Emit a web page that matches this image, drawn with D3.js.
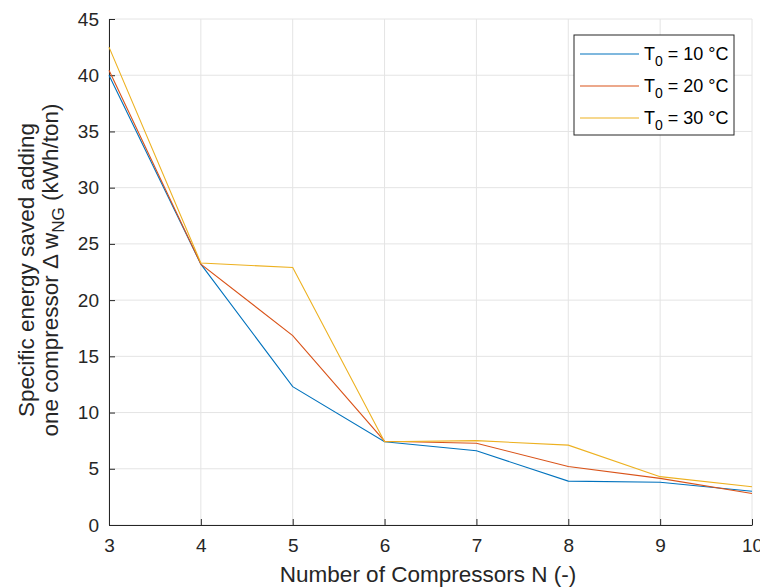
<!DOCTYPE html>
<html>
<head>
<meta charset="utf-8">
<script src="https://cdn.jsdelivr.net/npm/d3@7"></script>
<style>
  body { margin: 0; background: #fff; }
  svg { font-family: "Liberation Sans", Arial, sans-serif; }
</style>
</head>
<body>
<div id="chart"></div>
<script>
var compressors = [3, 4, 5, 6, 7, 8, 9, 10];
var t10 = [40.0, 23.2, 12.3, 7.4, 6.6, 3.9, 3.8, 3.0];
var t20 = [40.45, 23.2, 16.85, 7.45, 7.27, 5.2, 4.15, 2.8];
var t30 = [42.5, 23.3, 22.9, 7.4, 7.5, 7.1, 4.3, 3.4];
var seriesNames = ["10", "20", "30"];
var colors = ["#0072BD", "#D95319", "#EDB120"];
var yTicks = [0, 5, 10, 15, 20, 25, 30, 35, 40, 45];

var margin = {top: 19, right: 8, bottom: 63, left: 109},
  width = 760 - margin.left - margin.right,
  height = 588 - margin.top - margin.bottom;

var svg = d3.select("#chart").append("svg")
  .attr("width", 760)
  .attr("height", 588);

var g = svg.append("g")
  .attr("transform", "translate(" + margin.left + "," + margin.top + ")");

var x = d3.scaleLinear().domain([3, 10]).range([0, width]);
var y = d3.scaleLinear().domain([0, 45]).range([height, 0]);

// grid
g.append("g").selectAll("line").data(compressors).enter().append("line")
  .attr("x1", function (d) { return x(d); })
  .attr("x2", function (d) { return x(d); })
  .attr("y1", 0).attr("y2", height)
  .attr("stroke", "#e4e4e4").attr("stroke-width", 1);
g.append("g").selectAll("line").data(yTicks).enter().append("line")
  .attr("y1", function (d) { return y(d); })
  .attr("y2", function (d) { return y(d); })
  .attr("x1", 0).attr("x2", width)
  .attr("stroke", "#e4e4e4").attr("stroke-width", 1);

// axes
var xAxis = g.append("g")
  .attr("transform", "translate(0," + height + ")")
  .call(d3.axisBottom(x).tickValues(compressors).tickFormat(d3.format("d"))
    .tickSizeInner(-6).tickSizeOuter(0).tickPadding(14));
var yAxis = g.append("g")
  .call(d3.axisLeft(y).tickValues(yTicks).tickSizeInner(-6).tickSizeOuter(0).tickPadding(10));

[xAxis, yAxis].forEach(function (a) {
  a.select(".domain").attr("stroke", "#262626");
  a.selectAll(".tick line").attr("stroke", "#262626");
  a.selectAll(".tick text").attr("fill", "#262626").style("font-size", "19px")
    .style("font-family", "'Liberation Sans', Arial, sans-serif");
});

// lines
var allSeries = [t10, t20, t30];
var line = d3.line()
  .x(function (d, i) { return x(compressors[i]); })
  .y(function (d) { return y(d); });

allSeries.forEach(function (s, i) {
  g.append("path")
    .datum(s)
    .attr("fill", "none")
    .attr("stroke", colors[i])
    .attr("stroke-width", 1.1)
    .attr("d", line);
});

// axis labels
svg.append("text")
  .attr("x", 428)
  .attr("y", 582)
  .attr("text-anchor", "middle")
  .attr("fill", "#262626")
  .style("font-size", "22.5px")
  .text("Number of Compressors N (-)");

var ylab = svg.append("g")
  .attr("transform", "translate(0,270) rotate(-90)");
ylab.append("text")
  .attr("x", 0).attr("y", 34)
  .attr("text-anchor", "middle")
  .attr("fill", "#262626")
  .style("font-size", "22.5px")
  .text("Specific energy saved adding");
var yl2 = ylab.append("text")
  .attr("x", 0).attr("y", 58)
  .attr("text-anchor", "middle")
  .attr("fill", "#262626")
  .style("font-size", "22.5px");
yl2.append("tspan").text("one compressor \u0394 w");
yl2.append("tspan").attr("dy", 6).style("font-size", "17px").text("NG");
yl2.append("tspan").attr("dy", -6).text(" (kWh/ton)");

// legend
var legend = svg.append("g").attr("transform", "translate(574,35)");
legend.append("rect")
  .attr("width", 160).attr("height", 100)
  .attr("fill", "#fff").attr("stroke", "#262626").attr("stroke-width", 1);

seriesNames.forEach(function (name, i) {
  var row = legend.append("g").attr("transform", "translate(0," + (19 + i * 32) + ")");
  row.append("line")
    .attr("x1", 6).attr("x2", 65)
    .attr("stroke", colors[i]).attr("stroke-width", 1.1);
  var t = row.append("text")
    .attr("x", 70).attr("y", 6)
    .attr("fill", "#000")
    .style("font-size", "18px");
  t.append("tspan").text("T");
  t.append("tspan").attr("dy", 6).style("font-size", "14px").text("0");
  t.append("tspan").attr("dy", -6).text(" = " + name + " \u00B0C");
});
</script>
</body>
</html>
